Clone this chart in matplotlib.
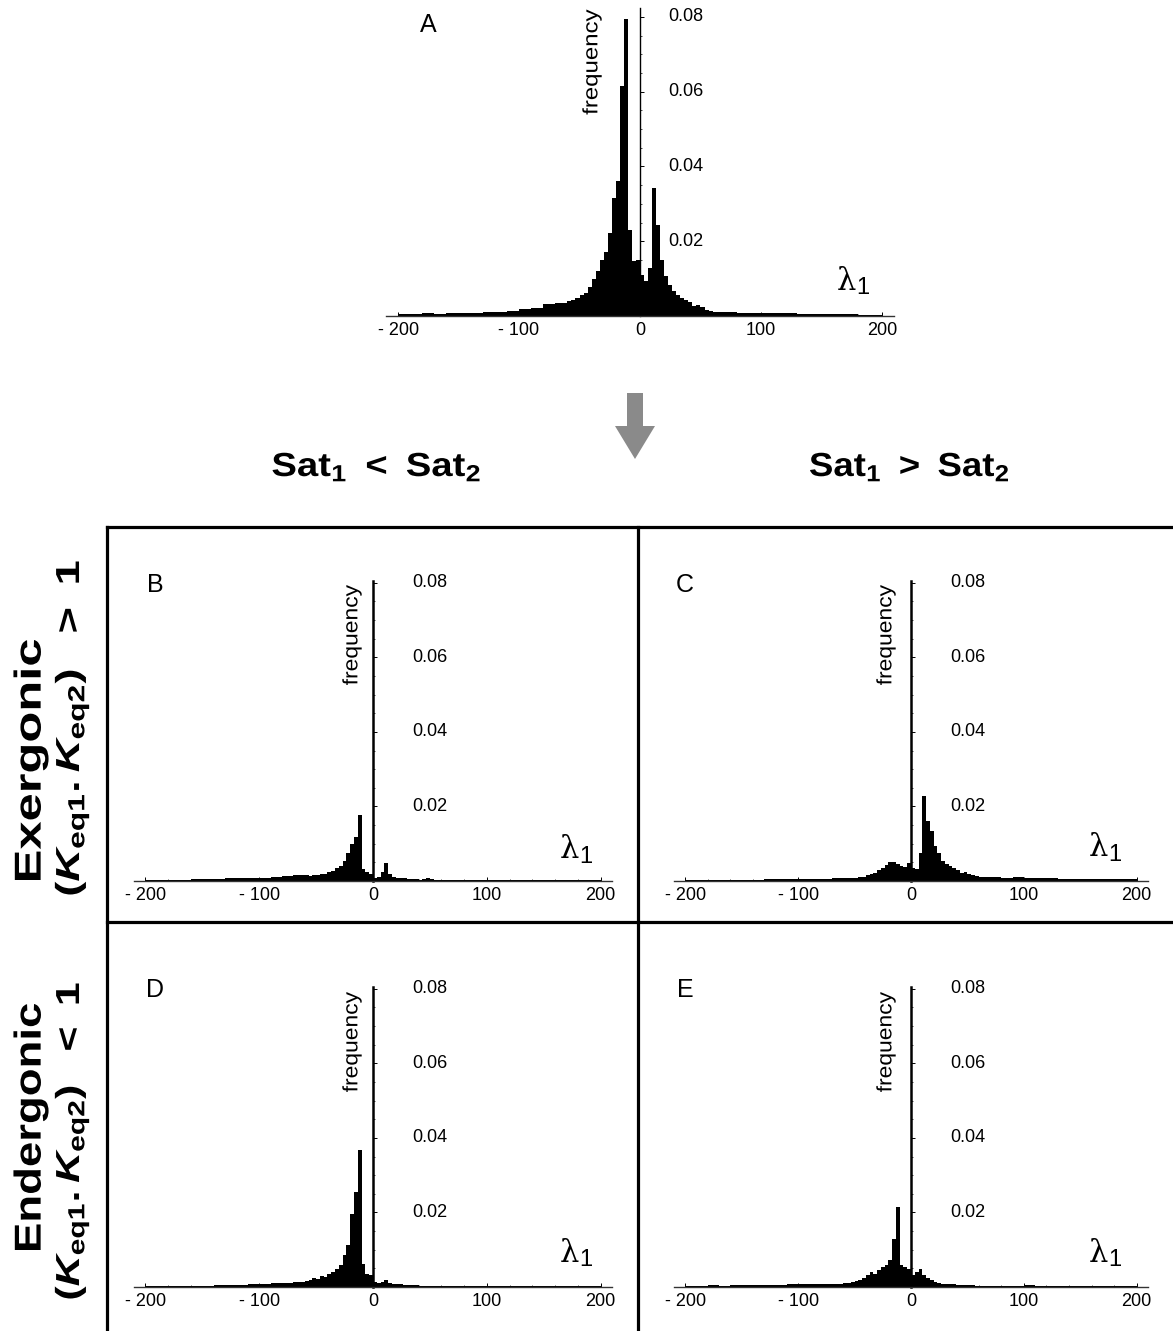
import numpy as np
import matplotlib
matplotlib.use('Agg')
from matplotlib import pyplot as plt
from matplotlib.patches import Polygon, PathPatch
from matplotlib.lines import Line2D
from matplotlib.textpath import TextPath
from matplotlib.font_manager import FontProperties
from matplotlib.transforms import Affine2D

# bin edges of the lambda_1 histograms: coarse tails, fine core
edges_left = np.arange(-200, -59, 10)
edges_core = np.linspace(-60, 60, 37)
edges_right = np.arange(60, 201, 10)
edges = np.concatenate([edges_left[:-1], edges_core, edges_right[1:]])

# frequencies: 14 left-tail bins, 36 core bins, 14 right-tail bins
freq_a = [0.0005, 0.0006, 0.0007, 0.0006, 0.0008, 0.0009, 0.0008, 0.0010, 0.0012, 0.0013, 0.0018, 0.0022, 0.0031, 0.0035,
          0.0040, 0.0043, 0.0048, 0.0055, 0.0062, 0.0078, 0.0098, 0.0120, 0.0150, 0.0170, 0.0222, 0.0316,
          0.0362, 0.0616, 0.0794, 0.0231, 0.0147, 0.0150, 0.0111, 0.0093, 0.0129, 0.0342, 0.0244, 0.0150,
          0.0108, 0.0082, 0.0066, 0.0056, 0.0048, 0.0043, 0.0038, 0.0028, 0.0030, 0.0024, 0.0017, 0.0013,
          0.0011, 0.0010, 0.0008, 0.0009, 0.0008, 0.0007, 0.0007, 0.0006, 0.0006, 0.0006, 0.0005, 0.0005, 0.0004, 0.0004]
freq_b = [0.0003, 0.0003, 0.0004, 0.0004, 0.0005, 0.0005, 0.0006, 0.0007, 0.0007, 0.0008, 0.0009, 0.0012, 0.0013, 0.0015,
          0.0016, 0.0014, 0.0017, 0.0015, 0.0019, 0.0018, 0.0024, 0.0026, 0.0034, 0.0040, 0.0054, 0.0076,
          0.0099, 0.0117, 0.0177, 0.0031, 0.0025, 0.0018, 0.0009, 0.0010, 0.0025, 0.0049, 0.0020, 0.0012,
          0.0009, 0.0008, 0.0007, 0.0006, 0.0005, 0.0005, 0.0004, 0.0005, 0.0008, 0.0005, 0.0004, 0.0004,
          0.0004, 0.0004, 0.0003, 0.0004, 0.0003, 0.0003, 0.0003, 0.0003, 0.0002, 0.0003, 0.0002, 0.0002, 0.0002, 0.0002]
freq_c = [0.0003, 0.0003, 0.0004, 0.0003, 0.0004, 0.0004, 0.0004, 0.0005, 0.0005, 0.0005, 0.0006, 0.0006, 0.0006, 0.0007,
          0.0007, 0.0007, 0.0008, 0.0009, 0.0010, 0.0012, 0.0015, 0.0018, 0.0022, 0.0030, 0.0036, 0.0044,
          0.0050, 0.0052, 0.0046, 0.0040, 0.0038, 0.0048, 0.0035, 0.0032, 0.0076, 0.0229, 0.0161, 0.0135,
          0.0094, 0.0076, 0.0054, 0.0045, 0.0040, 0.0036, 0.0030, 0.0022, 0.0025, 0.0019, 0.0016, 0.0014,
          0.0012, 0.0010, 0.0009, 0.0011, 0.0008, 0.0007, 0.0007, 0.0006, 0.0006, 0.0006, 0.0005, 0.0005, 0.0005, 0.0005]
freq_d = [0.0003, 0.0003, 0.0003, 0.0004, 0.0004, 0.0004, 0.0005, 0.0005, 0.0006, 0.0007, 0.0008, 0.0010, 0.0012, 0.0014,
          0.0016, 0.0018, 0.0024, 0.0022, 0.0030, 0.0027, 0.0036, 0.0040, 0.0049, 0.0058, 0.0085, 0.0112,
          0.0197, 0.0256, 0.0368, 0.0063, 0.0035, 0.0031, 0.0014, 0.0011, 0.0013, 0.0019, 0.0012, 0.0009,
          0.0008, 0.0007, 0.0006, 0.0006, 0.0005, 0.0005, 0.0004, 0.0004, 0.0004, 0.0004, 0.0003, 0.0003,
          0.0003, 0.0003, 0.0003, 0.0002, 0.0003, 0.0002, 0.0002, 0.0002, 0.0002, 0.0002, 0.0002, 0.0002, 0.0002, 0.0002]
freq_e = [0.0004, 0.0004, 0.0005, 0.0004, 0.0005, 0.0005, 0.0006, 0.0006, 0.0006, 0.0007, 0.0007, 0.0008, 0.0008, 0.0009,
          0.0010, 0.0011, 0.0013, 0.0015, 0.0018, 0.0024, 0.0031, 0.0040, 0.0036, 0.0045, 0.0054, 0.0058,
          0.0072, 0.0130, 0.0214, 0.0058, 0.0054, 0.0049, 0.0031, 0.0040, 0.0049, 0.0031, 0.0024, 0.0018,
          0.0014, 0.0010, 0.0009, 0.0008, 0.0007, 0.0007, 0.0006, 0.0006, 0.0005, 0.0005, 0.0005, 0.0004,
          0.0004, 0.0004, 0.0004, 0.0004, 0.0005, 0.0004, 0.0004, 0.0004, 0.0004, 0.0004, 0.0003, 0.0003, 0.0003, 0.0003]

x_ticks = [-200, -100, 0, 100, 200]
x_ticklabels = ['- 200', '- 100', '0', '100', '200']
y_ticks = [0.02, 0.04, 0.06, 0.08]
col_titles = [r'$\mathrm{Sat}_1\ <\ \mathrm{Sat}_2$', r'$\mathrm{Sat}_1\ >\ \mathrm{Sat}_2$']
row_titles = ['Exergonic', 'Endergonic']
row_subtitles = [r'$(K_{\mathrm{eq1}}.K_{\mathrm{eq2}})\ \ >\ 1$',
                 r'$(K_{\mathrm{eq1}}.K_{\mathrm{eq2}})\ \ <\ 1$']

plt.rcParams['font.family'] = ['Liberation Sans', 'DejaVu Sans']
plt.rcParams['mathtext.fontset'] = 'custom'
plt.rcParams['mathtext.rm'] = 'Liberation Sans:bold'
plt.rcParams['mathtext.it'] = 'Liberation Sans:italic:bold'
plt.rcParams['mathtext.bf'] = 'Liberation Sans:bold'

W, H = 1173, 1331
DPI = 100
fig = plt.figure(figsize=(W / DPI, H / DPI), dpi=DPI)


def fx(x):
    return x / W


def fy(y):
    return 1 - y / H


def ftext(x, y, s, **kw):
    return fig.text(fx(x), fy(y), s, **kw)


def stretched_text(x, y, s, size, length, rotation=0, weight='normal'):
    """Draw s centred on pixel (x, y), scaled along its direction to `length` px."""
    tp = TextPath((0, 0), s, size=size, prop=FontProperties(family='Liberation Sans', weight=weight))
    bb = tp.get_extents()
    k = DPI / 72.0
    sx = length / bb.width
    tr = (Affine2D().translate(-(bb.x0 + bb.x1) / 2, -(bb.y0 + bb.y1) / 2)
          .scale(sx, k).rotate_deg(rotation).translate(x, H - y))
    fig.add_artist(PathPatch(tp, transform=tr, facecolor='black', edgecolor='none'))


def hist_panel(freq, box, ylim_top, label_off, letter, letter_xy, freq_xy, freq_len, lam_xy, lw_axis):
    left, top, right, bottom = box
    ax = fig.add_axes([fx(left), fy(bottom), (right - left) / W, (bottom - top) / H])
    ax.stairs(freq, edges, fill=True, color='black', lw=0)
    ax.set_xlim(-210, 210)
    ax.set_ylim(0, ylim_top)
    ax.patch.set_visible(False)
    for s in ['top', 'right']:
        ax.spines[s].set_visible(False)
    ax.spines['left'].set_position(('data', 0))
    ax.spines['left'].set_linewidth(lw_axis)
    ax.spines['bottom'].set_linewidth(1.0)
    ax.spines['bottom'].set_color('#333333')
    ax.set_xticks(x_ticks)
    ax.set_xticklabels(x_ticklabels, fontsize=13)
    ax.set_xticks(np.arange(-200, 201, 20), minor=True)
    ax.set_yticks(y_ticks)
    ax.set_yticks(np.arange(0.005, ylim_top, 0.005), minor=True)
    ax.tick_params(axis='x', which='major', direction='in', length=3, width=0.7, pad=4)
    ax.tick_params(axis='x', which='minor', direction='in', length=1.5, width=0.5)
    ax.tick_params(axis='y', which='major', direction='in', length=3, width=0.7, labelleft=False)
    ax.tick_params(axis='y', which='minor', direction='in', length=1.5, width=0.5)
    for v in y_ticks:
        ax.annotate('%.2f' % v, xy=(0, v), xytext=(label_off * 0.72, 0),
                    textcoords='offset points', ha='left', va='center', fontsize=13)
    ftext(*letter_xy, letter, fontsize=18, ha='center', va='center')
    stretched_text(freq_xy[0], freq_xy[1], 'frequency', 15, freq_len, rotation=90)
    ftext(lam_xy[0], lam_xy[1], '\u03bb', fontsize=22, ha='center', va='center',
          family=['DejaVu Serif', 'DejaVu Sans'])
    ftext(lam_xy[0] + 17, lam_xy[1] + 7, '1', fontsize=17, ha='center', va='center')
    return ax


hist_panel(freq_a, (386, 8, 894, 316), 0.0824, 28, 'A', (428, 25), (592, 62), 105, (846, 281), 1.0)
hist_panel(freq_b, (134, 581, 612, 881), 0.0805, 39, 'B', (155, 585), (352, 635), 100, (569, 850), 1.8)
hist_panel(freq_c, (674, 581, 1148, 881), 0.0805, 39, 'C', (685, 585), (886, 635), 100, (1098, 848), 1.8)
hist_panel(freq_d, (134, 987, 612, 1287), 0.0805, 39, 'D', (155, 990), (352, 1042), 100, (569, 1253), 1.8)
hist_panel(freq_e, (674, 987, 1148, 1287), 0.0805, 39, 'E', (685, 990), (886, 1042), 100, (1098, 1253), 1.8)

# grey arrow between panel A and the grid
arrow = [(627, 393), (643, 393), (643, 426), (655, 426), (635, 459), (615, 426), (627, 426)]
fig.patches.append(Polygon([(fx(x), fy(y)) for x, y in arrow], closed=True,
                           transform=fig.transFigure, facecolor='#8a8a8a', edgecolor='none'))

# column and row titles
stretched_text(376, 467, col_titles[0], 24, 207)
stretched_text(909, 467, col_titles[1], 24, 198)
stretched_text(31, 760, row_titles[0], 27, 240, rotation=90, weight='bold')
stretched_text(31, 1127, row_titles[1], 27, 246, rotation=90, weight='bold')
stretched_text(72, 728, row_subtitles[0], 24, 333, rotation=90)
stretched_text(72, 1141, row_subtitles[1], 24, 315, rotation=90)

# frame of the 2x2 grid
frame = [((107, 527), (107, H)), ((638, 527), (638, H)),
         ((107, 527), (W, 527)), ((107, 922), (W, 922))]
for (x0, y0), (x1, y1) in frame:
    fig.add_artist(Line2D([fx(x0), fx(x1)], [fy(y0), fy(y1)], color='black', lw=2.3,
                          transform=fig.transFigure))

fig.savefig('out.png', dpi=DPI)
